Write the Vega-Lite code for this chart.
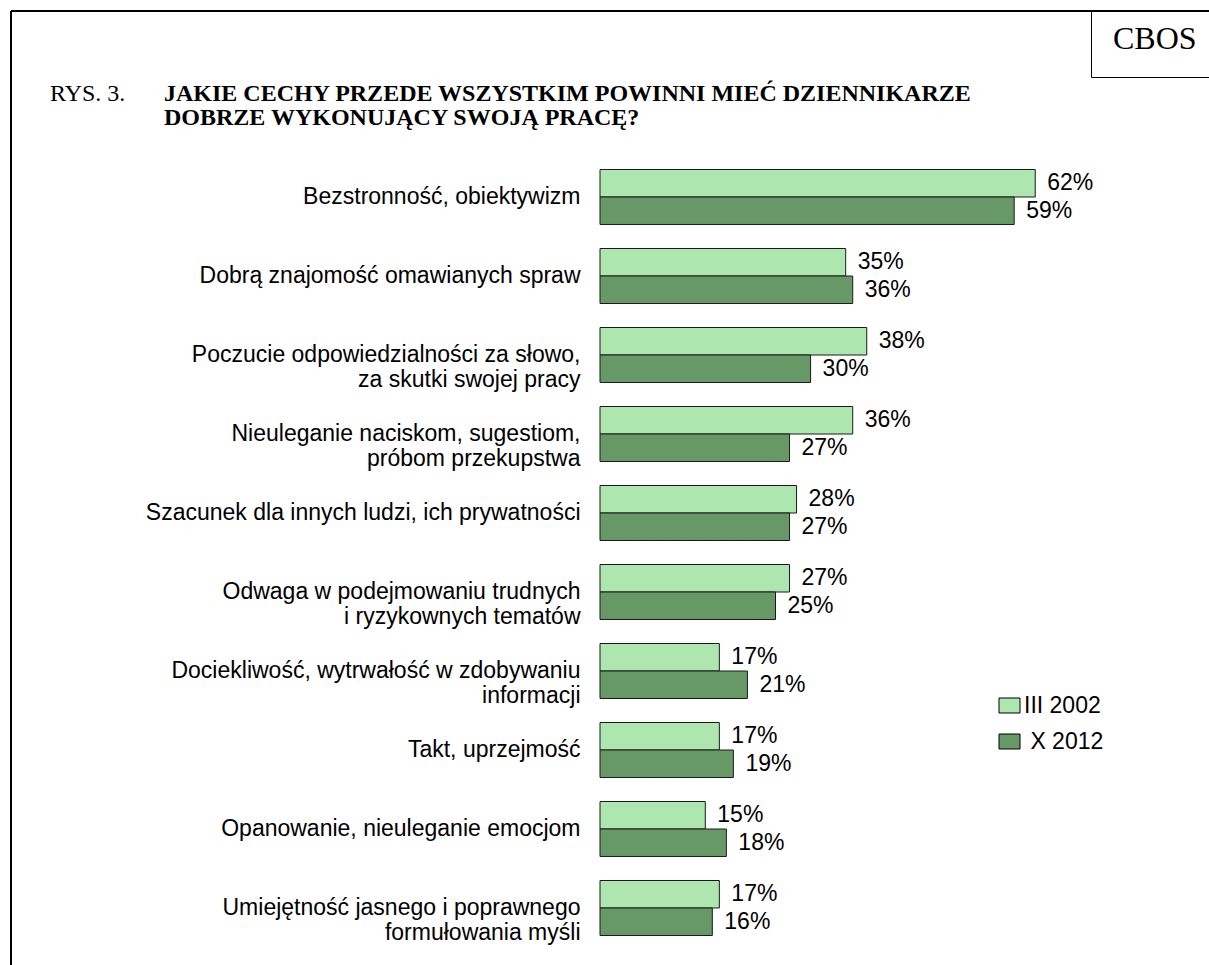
{
  "$schema": "https://vega.github.io/schema/vega-lite/v6.json",
  "autosize": {"type": "none"},
  "width": 1198,
  "height": 954,
  "padding": {"left": 11, "top": 11, "right": 0, "bottom": 0},
  "background": "white",
  "config": {
    "view": {"stroke": "black", "strokeWidth": 2, "strokeDash": [1198, 2152, 954, 0]},
    "font": "Liberation Sans"
  },
  "title": {
    "text": "RYS. 3.",
    "subtitle": [
      "\u200b\u00a0\u00a0\u00a0\u00a0\u00a0\u00a0\u00a0\u00a0\u00a0\u00a0\u00a0\u00a0\u00a0\u00a0\u00a0\u00a0\u00a0\u00a0\u00a0JAKIE CECHY PRZEDE WSZYSTKIM POWINNI MIEĆ DZIENNIKARZE",
      "\u200b\u00a0\u00a0\u00a0\u00a0\u00a0\u00a0\u00a0\u00a0\u00a0\u00a0\u00a0\u00a0\u00a0\u00a0\u00a0\u00a0\u00a0\u00a0\u00a0DOBRZE WYKONUJĄCY SWOJĄ PRACĘ?"
    ],
    "anchor": "start",
    "frame": "group",
    "orient": "top",
    "offset": -119,
    "dx": 39,
    "font": "Liberation Serif",
    "fontSize": 24,
    "fontWeight": "normal",
    "color": "black",
    "subtitleFont": "Liberation Serif",
    "subtitleFontSize": 24,
    "subtitleFontWeight": "bold",
    "subtitleColor": "black",
    "subtitlePadding": -24,
    "subtitleLineHeight": 24
  },
  "data": {
    "values": [
      {"category": "Bezstronność, obiektywizm", "period": "III 2002", "value": 0.62},
      {"category": "Bezstronność, obiektywizm", "period": "X 2012", "value": 0.59},
      {"category": "Dobrą znajomość omawianych spraw", "period": "III 2002", "value": 0.35},
      {"category": "Dobrą znajomość omawianych spraw", "period": "X 2012", "value": 0.36},
      {"category": "Poczucie odpowiedzialności za słowo,\nza skutki swojej pracy", "period": "III 2002", "value": 0.38},
      {"category": "Poczucie odpowiedzialności za słowo,\nza skutki swojej pracy", "period": "X 2012", "value": 0.30},
      {"category": "Nieuleganie naciskom, sugestiom,\npróbom przekupstwa", "period": "III 2002", "value": 0.36},
      {"category": "Nieuleganie naciskom, sugestiom,\npróbom przekupstwa", "period": "X 2012", "value": 0.27},
      {"category": "Szacunek dla innych ludzi, ich prywatności", "period": "III 2002", "value": 0.28},
      {"category": "Szacunek dla innych ludzi, ich prywatności", "period": "X 2012", "value": 0.27},
      {"category": "Odwaga w podejmowaniu trudnych\ni ryzykownych tematów", "period": "III 2002", "value": 0.27},
      {"category": "Odwaga w podejmowaniu trudnych\ni ryzykownych tematów", "period": "X 2012", "value": 0.25},
      {"category": "Dociekliwość, wytrwałość w zdobywaniu\ninformacji", "period": "III 2002", "value": 0.17},
      {"category": "Dociekliwość, wytrwałość w zdobywaniu\ninformacji", "period": "X 2012", "value": 0.21},
      {"category": "Takt, uprzejmość", "period": "III 2002", "value": 0.17},
      {"category": "Takt, uprzejmość", "period": "X 2012", "value": 0.19},
      {"category": "Opanowanie, nieuleganie emocjom", "period": "III 2002", "value": 0.15},
      {"category": "Opanowanie, nieuleganie emocjom", "period": "X 2012", "value": 0.18},
      {"category": "Umiejętność jasnego i poprawnego\nformułowania myśli", "period": "III 2002", "value": 0.17},
      {"category": "Umiejętność jasnego i poprawnego\nformułowania myśli", "period": "X 2012", "value": 0.16}
    ]
  },
  "encoding": {
    "y": {
      "field": "category",
      "type": "nominal",
      "sort": null,
      "scale": {"range": [146.5, 936.5], "paddingInner": 0.3038, "paddingOuter": 0.1519},
      "axis": {
        "orient": "left",
        "offset": -589,
        "title": null,
        "domain": false,
        "ticks": false,
        "grid": false,
        "labelPadding": 20,
        "labelAlign": "right",
        "labelBaseline": "middle",
        "labelFont": "Liberation Sans",
        "labelFontSize": 23,
        "labelLineHeight": 25,
        "labelColor": "black",
        "labelLimit": 0,
        "labelExpr": "split(datum.label, '\\n')"
      }
    },
    "yOffset": {"field": "period", "type": "nominal", "sort": ["III 2002", "X 2012"]},
    "x": {
      "field": "value",
      "type": "quantitative",
      "scale": {"domain": [0, 1], "range": [589, 1291], "nice": false, "zero": true},
      "axis": null
    }
  },
  "layer": [
    {
      "mark": {"type": "bar", "stroke": "#1a1a1a", "strokeWidth": 1},
      "encoding": {
        "color": {
          "field": "period",
          "type": "nominal",
          "scale": {"domain": ["III 2002", "X 2012"], "range": ["#ADE6AE", "#669966"]},
          "legend": {
            "title": null,
            "orient": "none",
            "legendX": 987,
            "legendY": 683,
            "padding": 0,
            "symbolType": "M-1.4,-1H1.4V1H-1.4Z",
            "symbolSize": 225,
            "symbolStrokeColor": "black",
            "symbolStrokeWidth": 1,
            "symbolOpacity": 1,
            "labelOffset": 3,
            "labelFont": "Liberation Sans",
            "labelFontSize": 23,
            "labelColor": "black",
            "labelBaseline": "middle",
            "rowPadding": 12,
            "labelExpr": "datum.label == 'X 2012' ? '\u200b\u00a0X 2012' : datum.label"
          }
        }
      }
    },
    {
      "mark": {"type": "text", "align": "left", "baseline": "middle", "dx": 12, "font": "Liberation Sans", "fontSize": 23, "color": "black"},
      "encoding": {
        "text": {"field": "value", "type": "quantitative", "format": ".0%"},
        "opacity": {
          "field": "category",
          "type": "nominal",
          "scale": {"range": [1, 1]},
          "legend": {
            "title": null,
            "values": ["Bezstronność, obiektywizm", "Takt, uprzejmość"],
            "columns": 2,
            "columnPadding": 30,
            "orient": "none",
            "legendX": 1080,
            "legendY": 0,
            "padding": 22,
            "strokeColor": "black",
            "symbolSize": 0,
            "symbolFillColor": "transparent",
            "symbolStrokeColor": "transparent",
            "symbolStrokeWidth": 0,
            "labelOffset": -32,
            "labelExpr": "datum.value == 'Takt, uprzejmość' ? '' : 'CBOS'",
            "labelFont": "Liberation Serif",
            "labelFontSize": 32,
            "labelColor": "black",
            "labelBaseline": "alphabetic",
            "labelLimit": 0,
            "encode": {"legend": {"update": {"strokeWidth": {"value": 2}}}}
          }
        }
      }
    }
  ]
}
